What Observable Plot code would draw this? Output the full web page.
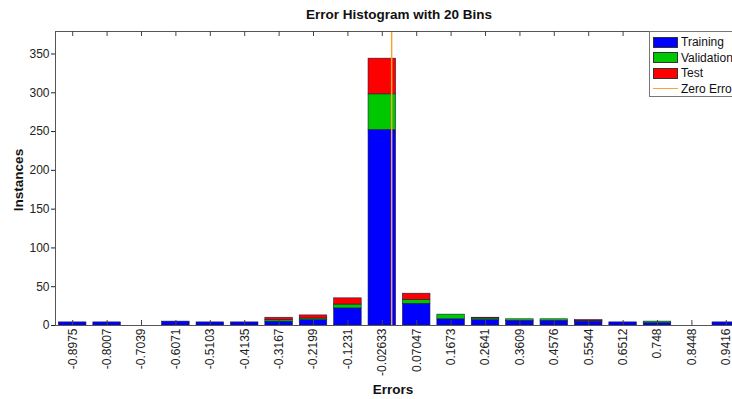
<!DOCTYPE html>
<html>
<head>
<meta charset="utf-8">
<script src="https://cdn.jsdelivr.net/npm/d3@7"></script>
<script src="https://cdn.jsdelivr.net/npm/@observablehq/plot@0.6"></script>
<style>
  html, body { margin: 0; padding: 0; background: #fff; overflow: hidden; width: 732px; height: 399px; }
  #wrap { position: relative; width: 743px; height: 399px; font-family: "Liberation Sans", Arial, sans-serif; }
  #wrap svg { position: absolute; left: 0; top: 0; }
  .title { position: absolute; top: 7px; left: 0; width: 798px; text-align: center; font-weight: bold; font-size: 13.5px; color: #111; }
  .xlab { position: absolute; top: 382px; left: 0; width: 786px; text-align: center; font-weight: bold; font-size: 13.5px; color: #111; }
  .ylab { position: absolute; left: 18px; top: 180px; transform: translate(-50%, -50%) rotate(-90deg); font-weight: bold; font-size: 13.5px; color: #111; white-space: nowrap; }
  .legend { position: absolute; left: 649px; top: 31px; width: 95px; height: 66px; border: 1px solid #777; background: #fff; box-sizing: border-box; }
  .legend .row { position: absolute; left: 3px; height: 14px; display: flex; align-items: center; font-size: 12px; color: #111; }
  .legend .sw { width: 25px; height: 11px; border: 1px solid #333; box-sizing: border-box; margin-right: 3px; }
  .legend .ln { width: 25px; height: 0; border-top: 1.5px solid #f4a534; margin-right: 3px; }
</style>
</head>
<body>
<div id="wrap"></div>
<script>
// ---- data ----
const binLabels = ["-0.8975","-0.8007","-0.7039","-0.6071","-0.5103","-0.4135","-0.3167","-0.2199","-0.1231","-0.02633","0.07047","0.1673","0.2641","0.3609","0.4576","0.5544","0.6512","0.748","0.8448","0.9416"];
const training   = [4, 4, 0, 5, 4, 4, 5, 7, 22, 252, 28, 8, 7, 6, 6, 5, 4, 3, 0, 4];
const validation = [0, 0, 0, 0, 0, 0, 2, 2, 5, 46, 5, 6, 2, 2, 2, 1, 0, 2, 0, 0];
const test       = [0, 0, 0, 0, 0, 0, 3, 4, 8, 46, 8, 0, 1, 0, 0, 1, 0, 0, 0, 0];
const yTicks = [0, 50, 100, 150, 200, 250, 300, 350];
const seriesNames = ["Training", "Validation", "Test"];
const seriesColors = ["#0000ff", "#00c800", "#ff0000"];
const zeroError = [0];

// ---- build ----
const centers = binLabels.map(Number);
const binW = (centers[centers.length - 1] - centers[0]) / (centers.length - 1);
const rows = [];
centers.forEach((c, i) => {
  let base = 0;
  [training, validation, test].forEach((arr, s) => {
    const v = arr[i];
    if (v > 0) rows.push({x1: c - 0.4 * binW, x2: c + 0.4 * binW, y1: base, y2: base + v, series: seriesNames[s]});
    base += v;
  });
});

const W = 743, H = 399, mTop = 31, mBottom = 74, mLeft = 55;
const frameH = H - mTop - mBottom;

const chart = Plot.plot({
  width: W, height: H,
  marginTop: mTop, marginBottom: mBottom, marginLeft: mLeft, marginRight: 0,
  style: {fontFamily: "'Liberation Sans', Arial, sans-serif", fontSize: "12px", color: "#222", background: "transparent"},
  x: {type: "linear", domain: [centers[0] - binW / 2, centers[centers.length - 1] + binW / 2]},
  y: {domain: [0, 379]},
  color: {domain: seriesNames, range: seriesColors},
  marks: [
    Plot.rect(rows, {x1: "x1", x2: "x2", y1: "y1", y2: "y2", fill: "series", stroke: "#1a1a40", strokeWidth: 0.6}),
    Plot.ruleX(zeroError, {x: d => d, stroke: "#f4a534", strokeWidth: 1.5}),
    Plot.frame({stroke: "#555"}),
    Plot.ruleX(centers, {x: d => d, stroke: "#444", insetTop: frameH - 5}),
    Plot.ruleX(centers, {x: d => d, stroke: "#444", insetBottom: frameH - 5}),
    Plot.axisX({ticks: centers, tickFormat: d => binLabels[centers.indexOf(d)], tickSize: 0, tickPadding: 3, tickRotate: -90, label: null, fontSize: 12}),
    Plot.axisY({ticks: yTicks, tickSize: 4, tickPadding: 2, label: null, fontSize: 12})
  ]
});

const wrap = document.getElementById("wrap");
wrap.appendChild(chart);

const t = document.createElement("div"); t.className = "title"; t.textContent = "Error Histogram with 20 Bins"; wrap.appendChild(t);
const xl = document.createElement("div"); xl.className = "xlab"; xl.textContent = "Errors"; wrap.appendChild(xl);
const yl = document.createElement("div"); yl.className = "ylab"; yl.textContent = "Instances"; wrap.appendChild(yl);

const lg = document.createElement("div"); lg.className = "legend";
const items = seriesNames.map((n, i) => ({name: n, color: seriesColors[i]})).concat([{name: "Zero Error", line: true}]);
items.forEach((it, i) => {
  const r = document.createElement("div"); r.className = "row"; r.style.top = (3 + i * 15.5) + "px";
  const sw = document.createElement("div");
  if (it.line) { sw.className = "ln"; } else { sw.className = "sw"; sw.style.background = it.color; }
  r.appendChild(sw);
  const tx = document.createElement("span"); tx.textContent = it.name; r.appendChild(tx);
  lg.appendChild(r);
});
wrap.appendChild(lg);
</script>
</body>
</html>
